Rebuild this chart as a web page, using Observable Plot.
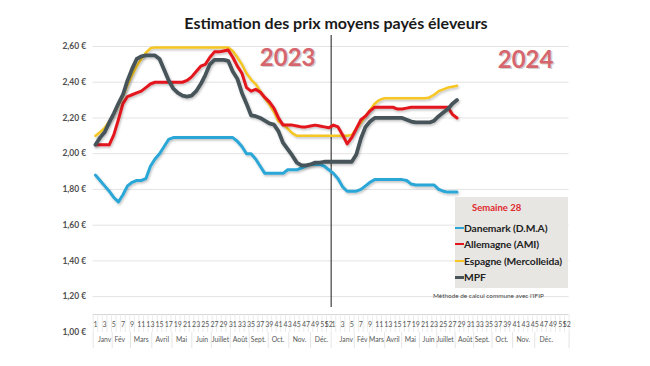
<!DOCTYPE html>
<html><head><meta charset="utf-8">
<script src="https://cdn.jsdelivr.net/npm/d3@7"></script>
<script src="https://cdn.jsdelivr.net/npm/@observablehq/plot@0.6"></script>
<style>
html,body{margin:0;padding:0;background:#fff;}
#wrap{position:relative;width:650px;height:366px;overflow:hidden;font-family:Lato,sans-serif;}
#title{position:absolute;top:13px;left:336px;transform:translateX(-50%);white-space:nowrap;font-size:16px;font-weight:bold;color:#1a1a1a;}
#chart{position:absolute;top:34px;left:0;}
#legend{position:absolute;left:455px;top:197px;width:113px;height:91px;background:#e8e6e3;}
.lg{position:absolute;left:0;white-space:nowrap;font-size:10.3px;font-weight:bold;color:#222;line-height:11px;letter-spacing:-0.1px;}
.lg span.sw{display:inline-block;width:9px;height:2.5px;vertical-align:middle;position:relative;top:-1px;}
#sem{position:absolute;left:17px;top:6px;font-size:9.5px;font-weight:bold;color:#e0262c;line-height:10px;}
#note{position:absolute;left:433px;top:292px;font-size:6.4px;color:#444;white-space:nowrap;}
</style></head>
<body><div id="wrap"><div id="title"></div><div id="chart"></div><div id="legend"></div><div id="note"></div></div>
<script>
// ---- data ----
const titleText = "Estimation des prix moyens payés éleveurs";
const legendTitle = "Semaine 28";
const noteText = "Méthode de calcul commune avec l'IFIP";
const seriesNames = ["Danemark (D.M.A)", "Allemagne (AMI)", "Espagne (Mercolleida)", "MPF"];
const seriesColors = ["#2aa7d6", "#e2161d", "#f6c623", "#47555a"];
const years = ["2023", "2024"];
const weeksPerYear = 52;

const danemark2023 = [1.88,1.85,1.82,1.79,1.755,1.73,1.77,1.82,1.84,1.85,
  1.85,1.86,1.93,1.97,2.00,2.04,2.08,2.09,2.09,2.09,
  2.09,2.09,2.09,2.09,2.09,2.09,2.09,2.09,2.09,2.09,
  2.09,2.07,2.04,2.00,2.00,1.97,1.93,1.89,1.89,1.89,
  1.89,1.89,1.91,1.91,1.91,1.92,1.93,1.94,1.94,1.94,
  1.93,1.91];
const danemark2024 = [1.89,1.86,1.815,1.79,1.79,1.79,1.80,1.82,1.84,1.855,
  1.855,1.855,1.855,1.855,1.855,1.855,1.85,1.83,1.825,1.825,
  1.825,1.825,1.825,1.80,1.79,1.785,1.785,1.785];

const allemagne2023 = [2.05,2.05,2.05,2.05,2.105,2.19,2.28,2.32,2.33,2.34,
  2.35,2.37,2.39,2.40,2.40,2.40,2.40,2.40,2.40,2.40,
  2.41,2.43,2.46,2.49,2.50,2.54,2.57,2.57,2.575,2.58,
  2.54,2.49,2.45,2.37,2.35,2.36,2.345,2.315,2.29,2.255,
  2.20,2.16,2.16,2.16,2.155,2.15,2.15,2.155,2.16,2.155,
  2.15,2.145];
const allemagne2024 = [2.16,2.15,2.105,2.055,2.09,2.14,2.19,2.21,2.24,2.26,
  2.26,2.26,2.26,2.26,2.25,2.25,2.255,2.26,2.26,2.26,
  2.26,2.26,2.26,2.26,2.26,2.26,2.22,2.20];

const espagne2023 = [2.10,2.12,2.145,2.18,2.22,2.27,2.32,2.385,2.44,2.49,
  2.53,2.565,2.59,2.595,2.595,2.595,2.595,2.595,2.595,2.595,
  2.595,2.595,2.595,2.595,2.595,2.595,2.595,2.595,2.595,2.595,
  2.575,2.54,2.50,2.45,2.415,2.39,2.35,2.31,2.275,2.235,
  2.18,2.165,2.14,2.115,2.10,2.10,2.10,2.10,2.10,2.10,
  2.10,2.10];
const espagne2024 = [2.10,2.10,2.10,2.10,2.105,2.14,2.175,2.21,2.245,2.28,
  2.30,2.31,2.31,2.31,2.31,2.31,2.31,2.31,2.31,2.31,
  2.31,2.315,2.33,2.35,2.36,2.37,2.375,2.38];

const mpf2023 = [2.05,2.09,2.12,2.175,2.225,2.28,2.33,2.41,2.475,2.53,
  2.545,2.55,2.55,2.55,2.53,2.47,2.41,2.365,2.34,2.325,
  2.32,2.325,2.35,2.39,2.44,2.50,2.525,2.525,2.525,2.52,
  2.46,2.42,2.34,2.28,2.215,2.21,2.20,2.185,2.17,2.163,
  2.125,2.06,2.025,1.99,1.95,1.935,1.935,1.94,1.95,1.95,
  1.955,1.955];
const mpf2024 = [1.955,1.955,1.955,1.955,1.955,1.995,2.085,2.15,2.18,2.20,
  2.20,2.20,2.20,2.20,2.20,2.20,2.19,2.18,2.175,2.175,
  2.175,2.175,2.185,2.21,2.23,2.25,2.28,2.30];

const weekLabels = [1,3,5,7,9,11,13,15,17,19,21,23,25,27,29,31,33,35,37,39,41,43,45,47,49,51,52];
const monthNames = ["Janv","Fév","Mars","Avril","Mai","Juin","Juillet","Août","Sept.","Oct.","Nov.","Déc."];
const monthCenters2023 = [3.0,6.3,11,15.6,19.8,24.3,28.3,32.6,36.6,40.9,45.6,50.4];
const monthCenters2024 = [3.8,7.3,10.4,14.0,17.8,21.8,25.4,29.8,33.5,37.8,42.5,47.5];
const yTicks = [1.0,1.2,1.4,1.6,1.8,2.0,2.2,2.4,2.6];
const gridValues = [1.2,1.4,1.6,1.8,2.0,2.2,2.4,2.6];
const yearLabelPos = [{year:"2023", week:43, value:2.535}, {year:"2024", week:43, value:2.525}];

// ---- build table ----
const byYear = [[danemark2023, danemark2024],[allemagne2023, allemagne2024],[espagne2023, espagne2024],[mpf2023, mpf2024]];
const rows = [];
byYear.forEach((pair, s) => pair.forEach((arr, y) => arr.forEach((v, k) => rows.push({serie: seriesNames[s], i: y*weeksPerYear + k, v}))));
const ser = name => rows.filter(d => d.serie === name);

const weekRows = [];
years.forEach((y, yi) => weekLabels.forEach(w => weekRows.push({i: yi*weeksPerYear + w - 1, w})));
const monthRows = [];
[monthCenters2023, monthCenters2024].forEach((arr, yi) => arr.forEach((c, m) => monthRows.push({i: yi*weeksPerYear + c - 1, m: monthNames[m]})));
const monthSeps = [-0.5];
[monthCenters2023, monthCenters2024].forEach((arr, yi) => {
  for (let m = 0; m < arr.length - 1; m++) monthSeps.push(yi*weeksPerYear + (arr[m] + arr[m+1])/2 - 1);
  monthSeps.push(yi*weeksPerYear + weeksPerYear - 0.5);
});
const weekSeps = d3.range(-0.5, 2*weeksPerYear, 1);
const yearLabels = yearLabelPos.map((d, k) => ({i: k*weeksPerYear + d.week - 1, v: d.value, t: d.year}));

const H = 332, mT = 12, mB = 52;
const pxToV = (2.6 - 1.1) / (H - mT - mB);
const fmt = d => d.toFixed(2).replace(".", ",") + " €";

const chart = Plot.plot({
  width: 650, height: H,
  marginLeft: 92.7, marginRight: 81.4, marginTop: mT, marginBottom: mB,
  x: {type: "linear", domain: [-0.5, 2*weeksPerYear - 0.5], axis: null},
  y: {domain: [1.1, 2.6], axis: null},
  style: {fontFamily: "Lato, sans-serif", background: "white", overflow: "visible"},
  marks: [
    Plot.ruleY(gridValues, {x1: -0.5, x2: 2*weeksPerYear - 0.5, stroke: "#e3e3e3", strokeWidth: 1}),
    Plot.ruleY([1.1], {x1: -0.5, x2: 2*weeksPerYear - 0.5, stroke: "#d6d6d6", strokeWidth: 1}),
    Plot.ruleX(weekSeps, {y1: 1.1, y2: 1.1 - 18*pxToV, stroke: "#e6e6e6", strokeWidth: 0.8}),
    Plot.ruleX(monthSeps, {y1: 1.1 - 18*pxToV, y2: 1.1 - 34*pxToV, stroke: "#dedede", strokeWidth: 0.8}),
    Plot.text(yTicks, {x: -0.5, y: d => d, text: fmt, textAnchor: "end", dx: -7, fontSize: 8.5, fontWeight: "bold", fill: "#505050"}),
    Plot.text(weekRows, {x: "i", text: "w", frameAnchor: "bottom", dy: 12.5, fontSize: 7, fill: "#595959"}),
    Plot.text(monthRows, {x: "i", text: "m", frameAnchor: "bottom", dy: 27, fontSize: 6.8, fill: "#595959"}),
    Plot.text(yearLabels, {x: "i", y: "v", text: "t", dx: 1.5, dy: 1.5, fontSize: 24, fontWeight: "bold", fill: "#9a9a9a", fillOpacity: 0.45}),
    Plot.text(yearLabels, {x: "i", y: "v", text: "t", fontSize: 24, fontWeight: "bold", fill: "#d6666e"}),
    Plot.ruleX([weeksPerYear - 0.5], {y1: 1.1 + 7*pxToV, y2: 2.6 + 11*pxToV, stroke: "#1a1a1a", strokeWidth: 1}),
    Plot.line(ser(seriesNames[0]), {x: "i", y: "v", stroke: seriesColors[0], strokeWidth: 3, strokeLinejoin: "round", strokeLinecap: "round"}),
    Plot.line(ser(seriesNames[2]), {x: "i", y: "v", stroke: seriesColors[2], strokeWidth: 2.5, strokeLinejoin: "round", strokeLinecap: "round"}),
    Plot.line(ser(seriesNames[1]), {x: "i", y: "v", stroke: seriesColors[1], strokeWidth: 3, strokeLinejoin: "round", strokeLinecap: "round"}),
    Plot.line(ser(seriesNames[3]), {x: "i", y: "v", stroke: seriesColors[3], strokeWidth: 3.8, strokeLinejoin: "round", strokeLinecap: "round"})
  ]
});

// soft shadow like the original
const svg = d3.select(chart);
const defs = svg.insert("defs", ":first-child");
const f = defs.append("filter").attr("id", "sh").attr("x", "-5%").attr("y", "-5%").attr("width", "110%").attr("height", "120%");
f.append("feDropShadow").attr("dx", 1).attr("dy", 1.5).attr("stdDeviation", 0.8).attr("flood-color", "#000").attr("flood-opacity", 0.25);
svg.selectAll('g[aria-label="line"]').attr("filter", "url(#sh)");

document.getElementById("chart").appendChild(chart);
document.getElementById("title").textContent = titleText;
document.getElementById("note").textContent = noteText;

const lg = document.getElementById("legend");
const sem = document.createElement("div"); sem.id = "sem"; sem.textContent = legendTitle; lg.appendChild(sem);
const rowTops = [25.5, 41.5, 58.5, 75];
seriesNames.forEach((n, k) => {
  const d = document.createElement("div"); d.className = "lg"; d.style.top = rowTops[k] + "px";
  const sw = document.createElement("span"); sw.className = "sw"; sw.style.background = seriesColors[k];
  d.appendChild(sw); d.appendChild(document.createTextNode(n)); lg.appendChild(d);
});
</script></body></html>
